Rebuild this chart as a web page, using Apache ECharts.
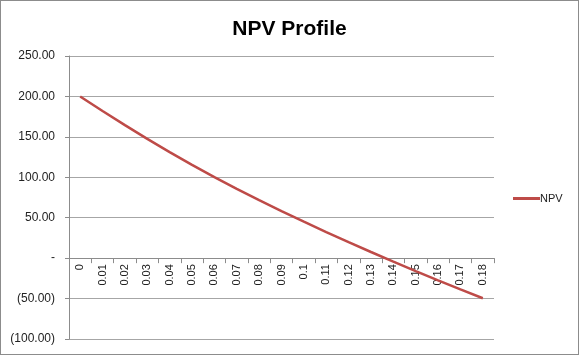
<!DOCTYPE html>
<html>
<head>
<meta charset="utf-8">
<script src="https://cdn.jsdelivr.net/npm/echarts@6/dist/echarts.min.js"></script>
<style>
html,body{margin:0;padding:0;background:#fff;}
#wrap{width:579px;height:355px;box-sizing:border-box;border:1px solid #8c8c8c;position:relative;}
#chart{position:absolute;left:-1px;top:-1px;width:579px;height:355px;}
</style>
</head>
<body>
<div id="wrap"><div id="chart"></div></div>
<script>
const categories = ['0','0.01','0.02','0.03','0.04','0.05','0.06','0.07','0.08','0.09','0.1','0.11','0.12','0.13','0.14','0.15','0.16','0.17','0.18'];
const npvValues = [200, 182.0, 164.5, 147.5, 131.2, 115.4, 100.3, 85.7, 71.7, 58.2, 45.1, 32.3, 19.8, 7.6, -4.3, -16.0, -27.4, -38.6, -49.6];
const seriesName = 'NPV';
const titleText = 'NPV Profile';
const yMin = -100, yMax = 250, yStep = 50;

function fmt(v){
  if (v === 0) return '-';
  const s = Math.abs(v).toFixed(2);
  return v < 0 ? '(' + s + ')' : s;
}

const chart = echarts.init(document.getElementById('chart'), null, {renderer:'canvas'});
chart.setOption({
  animation:false,
  title:{
    text:titleText, left:'center', top:14,
    textStyle:{fontFamily:'Liberation Sans', fontSize:21, fontWeight:'bold', color:'#000'}
  },
  legend:{
    data:[{name:seriesName, icon:'rect'}],
    left:508, top:188, orient:'vertical',
    itemWidth:27, itemHeight:3, itemGap:5,
    textStyle:{fontFamily:'Liberation Sans', fontSize:11, color:'#222', padding:[0,0,0,-5]}
  },
  grid:{left:69, right:85, top:56, bottom:16, containLabel:false, outerBoundsMode:'none'},
  xAxis:{
    type:'category', data:categories, boundaryGap:true, position:'bottom', offset:0,
    axisLine:{onZero:false, lineStyle:{color:'#8c8c8c', width:1}},
    axisTick:{show:true, inside:false, length:5, lineStyle:{color:'#8c8c8c'}},
    axisLabel:{rotate:90, interval:0, margin:6, fontFamily:'Liberation Sans', fontSize:11, color:'#222'},
    splitLine:{show:false}
  },
  yAxis:{
    type:'value', min:yMin, max:yMax, interval:yStep,
    axisLine:{show:true, onZero:false, lineStyle:{color:'#8c8c8c', width:1}},
    axisTick:{show:true, inside:false, length:4, lineStyle:{color:'#8c8c8c'}},
    axisLabel:{formatter:fmt, margin:14, fontFamily:'Liberation Sans', fontSize:12, color:'#222'},
    splitLine:{show:true, lineStyle:{color:'#a6a6a6', width:1}}
  },
  series:[{
    name:seriesName, type:'line', data:npvValues,
    symbol:'none', smooth:false,
    lineStyle:{color:'#be4b48', width:2.5},
    itemStyle:{color:'#be4b48'}
  }]
});
// place the category axis on the zero line of the value axis
const yZero = chart.convertToPixel({yAxisIndex:0}, 0);
const yBottom = chart.convertToPixel({yAxisIndex:0}, yMin);
chart.setOption({xAxis:{offset: yZero - yBottom}});
</script>
</body>
</html>
